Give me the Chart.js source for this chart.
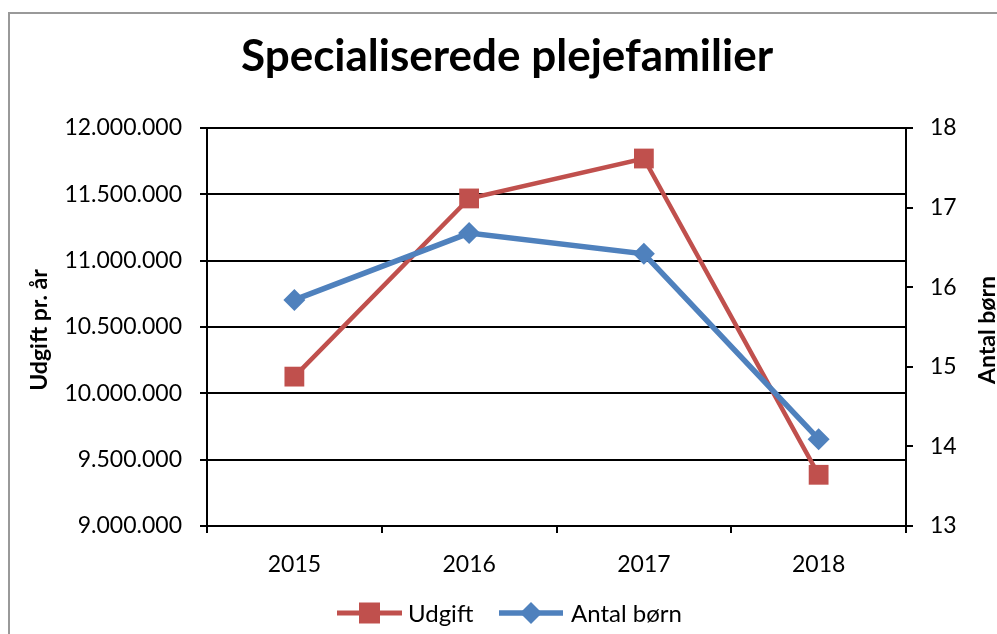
<!DOCTYPE html>
<html>
<head>
<meta charset="utf-8">
<script src="https://cdn.jsdelivr.net/npm/chart.js@4/dist/chart.umd.min.js"></script>
<style>
  html, body { margin:0; padding:0; background:#fff; }
  #wrap { width:997px; height:634px; }
</style>
</head>
<body>
<div id="wrap"><canvas id="chart" width="997" height="634"></canvas></div>
<script>
// ---------------------------
// Data
// ---------------------------
const years = ['2015', '2016', '2017', '2018'];
const udgift = [10126000, 11469000, 11770000, 9386000];
const antalBoern = [15.84, 16.68, 16.42, 14.09];

const chartTitle = 'Specialiserede plejefamilier';
const leftTitle = 'Udgift pr. år';
const rightTitle = 'Antal børn';
const seriesNames = ['Udgift', 'Antal børn'];

const RED = '#C0504D';
const BLUE = '#4F81BD';
const FONT = 'Lato, "Open Sans", sans-serif';

function fmtDK(v){
  return String(Math.round(v)).replace(/\B(?=(\d{3})+(?!\d))/g, '.');
}

// ---------------------------
// Frame, title, axis titles, legend
// ---------------------------
const decor = {
  id: 'decor',
  beforeDraw(chart){
    const c = chart.ctx;
    c.save();
    c.fillStyle = '#fff';
    c.fillRect(0, 0, chart.width, chart.height);
    c.strokeStyle = '#999';
    c.lineWidth = 2;
    c.strokeRect(9, 13, 1200, 1000);
    c.restore();
  },
  afterDraw(chart){
    const c = chart.ctx;
    c.save();
    c.fillStyle = '#000';
    c.textAlign = 'center';
    c.textBaseline = 'alphabetic';
    c.font = 'bold 44px ' + FONT;
    c.fillText(chartTitle, 507, 71);

    // axis titles, reading bottom to top
    c.font = 'bold 23px ' + FONT;
    c.textBaseline = 'middle';
    c.save(); c.translate(40, 330); c.rotate(-Math.PI/2); c.fillText(leftTitle, 0, 0); c.restore();
    c.save(); c.translate(988, 330); c.rotate(-Math.PI/2); c.fillText(rightTitle, 0, 0); c.restore();

    // legend: line sample with marker
    const items = [
      { x0:337, x1:402, color:RED, style:'rect', w:5, text:seriesNames[0], tx:408 },
      { x0:499, x1:563, color:BLUE, style:'diamond', w:5.5, text:seriesNames[1], tx:571 }
    ];
    const ly = 613;
    c.font = '24px ' + FONT;
    c.textAlign = 'left';
    c.textBaseline = 'middle';
    items.forEach(it=>{
      c.strokeStyle = it.color; c.lineWidth = it.w;
      c.beginPath(); c.moveTo(it.x0, ly); c.lineTo(it.x1, ly); c.stroke();
      const cx = (it.x0 + it.x1) / 2;
      c.fillStyle = it.color;
      c.beginPath();
      if (it.style === 'rect') c.rect(cx-10.5, ly-10.5, 21, 21);
      else { c.moveTo(cx-11, ly); c.lineTo(cx, ly-11); c.lineTo(cx+11, ly); c.lineTo(cx, ly+11); c.closePath(); }
      c.fill();
      c.fillStyle = '#000';
      c.fillText(it.text, it.tx, ly + 1);
    });
    c.restore();
  }
};

// ---------------------------
// Chart
// ---------------------------
const tickFont = { family: FONT, size: 23 };

new Chart(document.getElementById('chart').getContext('2d'), {
  type: 'line',
  data: {
    labels: years,
    datasets: [
      {
        label: seriesNames[0], data: udgift, yAxisID: 'y', order: 1,
        borderColor: RED, backgroundColor: RED, borderWidth: 4.5, tension: 0,
        pointStyle: 'rect', pointRadius: 14, pointHoverRadius: 14,
        pointBackgroundColor: RED, pointBorderWidth: 0
      },
      {
        label: seriesNames[1], data: antalBoern, yAxisID: 'y1', order: 0,
        borderColor: BLUE, backgroundColor: BLUE, borderWidth: 5.5, tension: 0,
        pointStyle: 'rectRot', pointRadius: 11, pointHoverRadius: 11,
        pointBackgroundColor: BLUE, pointBorderWidth: 0
      }
    ]
  },
  options: {
    responsive: false,
    animation: false,
    layout: { padding: { top: 128, left: 0, right: 0, bottom: 0 } },
    plugins: { legend: { display: false }, title: { display: false }, tooltip: { enabled: false } },
    scales: {
      x: {
        offset: true,
        grid: { offset: true, drawOnChartArea: false, drawTicks: true, tickLength: 7, color: '#000', lineWidth: 2 },
        border: { display: true, color: '#000', width: 2 },
        ticks: { font: tickFont, color: '#000', padding: 18, maxRotation: 0 },
        afterFit: s => { s.height = 108; }
      },
      y: {
        position: 'left', min: 9000000, max: 12000000,
        grid: { color: '#000', lineWidth: 2, tickLength: 7 },
        border: { display: true, color: '#000', width: 2 },
        ticks: { stepSize: 500000, font: tickFont, color: '#000', padding: 18, callback: v => fmtDK(v) },
        afterFit: s => { s.width = 207; }
      },
      y1: {
        position: 'right', min: 13, max: 18,
        grid: { drawOnChartArea: false, color: '#000', lineWidth: 2, tickLength: 7 },
        border: { display: true, color: '#000', width: 2 },
        ticks: { stepSize: 1, font: tickFont, color: '#000', padding: 17 },
        afterFit: s => { s.width = 91; }
      }
    }
  },
  plugins: [decor]
});
</script>
</body>
</html>
